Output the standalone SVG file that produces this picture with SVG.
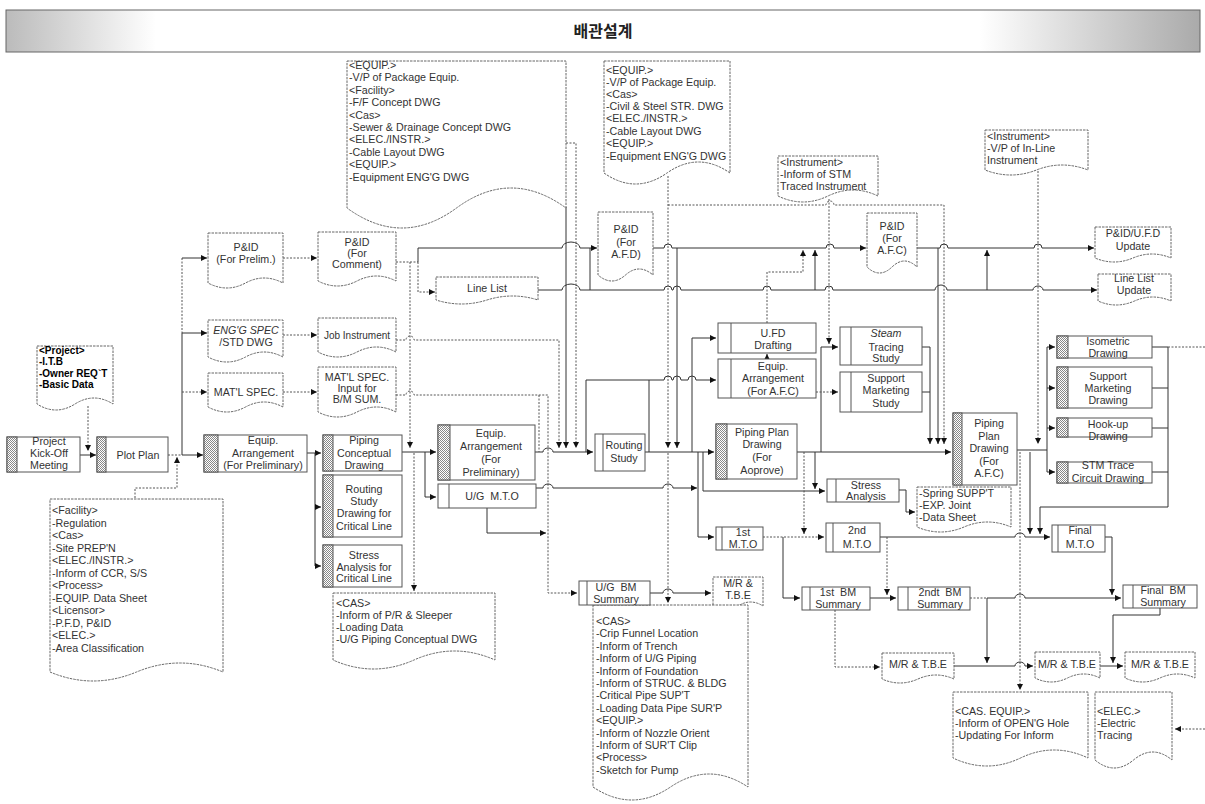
<svg xmlns="http://www.w3.org/2000/svg" width="1205" height="804" viewBox="0 0 1205 804">
<style>
.box{fill:#fff;stroke:#555;stroke-width:1}
.doc{fill:#fff;stroke:#666;stroke-width:1;stroke-dasharray:2.5,1}
.ht{fill:url(#ht);stroke:#555;stroke-width:1}
.il{stroke:#555;stroke-width:1}
.s{fill:none;stroke:#333;stroke-width:1}
.d{fill:none;stroke:#555;stroke-width:1;stroke-dasharray:2,1.5}
.a{marker-end:url(#ar)}
text{font-family:"Liberation Sans",Arial,sans-serif;font-size:10.7px;fill:#333}
.c{text-anchor:middle}
.k{fill:#000;font-weight:bold;font-size:10px}
.i{font-style:italic}
.w{word-spacing:3px}
.t{font-family:"Noto Sans CJK KR","Noto Sans",sans-serif;font-size:16px;font-weight:bold;fill:#222}
</style>
<defs>
<pattern id="ht" width="2" height="2" patternUnits="userSpaceOnUse"><rect width="2" height="2" fill="#fff"/><rect width="1" height="1" fill="#888"/><rect x="1" y="1" width="1" height="1" fill="#888"/></pattern>
<linearGradient id="gl" x1="0" y1="0" x2="1" y2="0"><stop offset="0" stop-color="#bbb"/><stop offset="1" stop-color="#fff"/></linearGradient>
<linearGradient id="gr" x1="0" y1="0" x2="1" y2="0"><stop offset="0" stop-color="#fff"/><stop offset="1" stop-color="#aaa"/></linearGradient>
<marker id="ar" viewBox="0 0 8 8" refX="8" refY="4" markerWidth="6" markerHeight="6" markerUnits="userSpaceOnUse" orient="auto"><path d="M0,0 L8,4 L0,8 z" fill="#111"/></marker>
</defs>
<rect width="1205" height="804" fill="#fff"/>
<g id="title"><rect x="6" y="10" width="1194" height="42" fill="#fff"/><rect x="6" y="10" width="150" height="42" fill="url(#gl)"/><rect x="980" y="10" width="220" height="42" fill="url(#gr)"/><rect x="6" y="10" width="1194" height="42" fill="none" stroke="#666"/><text class="t c" x="603" y="37">배관설계</text></g>

<g id="connectors">
<path class="d a" d="M88,406 V451"/>
<path class="s a" d="M80,455 H96"/>
<path class="d" d="M168,455 H182"/>
<path class="s a" d="M182,455 H203"/>
<path class="d" d="M182,258 V333"/>
<path class="s" d="M182,333 V455"/>
<path class="s a" d="M182,258 H207"/>
<path class="s a" d="M182,333 H207"/>
<path class="d a" d="M182,392 H207"/>
<path class="d a" d="M135,498 V488 H177 V457"/>
<path class="d a" d="M283,258 H317"/>
<path class="d a" d="M283,335 H317"/>
<path class="d a" d="M283,392 H317"/>
<path class="d" d="M396,262 H418"/>
<path class="s a" d="M418,262 V248 H562 a9,6 0 0 1 18,0 H597"/>
<path class="d a" d="M418,262 V292 H435"/>
<path class="s a" d="M538,290 H562 a9,6 0 0 1 18,0 H664 a4,4 0 0 1 8,0 H673 a4,4 0 0 1 8,0 H763 a4,4 0 0 1 8,0 H825 a4,4 0 0 1 8,0 H935 a6,5 0 0 1 12,0 H1033 a5,4 0 0 1 10,0 H1097"/>
<path class="s" d="M590,290 V248"/>
<path class="s a" d="M653,248 H664 a4,4 0 0 1 8,0 H826 a4,4 0 0 1 8,0 H866"/>
<path class="s a" d="M677,248 V448"/>
<path class="d a" d="M668,176 V448"/>
<path class="d a" d="M668,453 V603"/>
<path class="d a" d="M668,205 H826 a4,4 0 0 1 8,0 H944 V444"/>
<path class="d a" d="M829,199 V344"/>
<path class="s a" d="M821,452 V347 H838"/>
<path class="d a" d="M1038,171 V444"/>
<path class="s a" d="M917,248 H940 a4,4 0 0 1 8,0 H1034 a4,4 0 0 1 8,0 H1094"/>
<path class="s a" d="M938,248 V444"/>
<path class="s a" d="M987,290 V250"/>
<path class="s a" d="M922,347 H930 V444"/>
<path class="s" d="M922,392 H930"/>
<path class="s a" d="M797,452 H951"/>
<path class="s a" d="M645,452 H714"/>
<path class="s a" d="M535,452 H543 a5,4 0 0 1 10,0 H593"/>
<path class="d a" d="M396,340 H406 a4,4 0 0 1 8,0 H559 V448"/>
<path class="d a" d="M396,395 H406 a4,4 0 0 1 8,0 H548 V593 H577"/>
<path class="d" d="M539,395 V452"/>
<path class="d a" d="M566,143 H576 V448"/>
<path class="s a" d="M566,207 V448"/>
<path class="s a" d="M402,452 H436"/>
<path class="d a" d="M410,262 V448"/>
<path class="d a" d="M414,453 V591"/>
<path class="s a" d="M425,452 V497 H436"/>
<path class="s a" d="M536,488 H543 a5,4 0 0 1 10,0 H663 a5,4 0 0 1 10,0 H697"/>
<path class="s a" d="M487,508 V533 H546"/>
<path class="s a" d="M650,593 H663 a5,4 0 0 1 10,0 H711"/>
<path class="s a" d="M586,452 V380 H664 a4,4 0 0 1 8,0 H673 a4,4 0 0 1 8,0 H688 a4,4 0 0 1 8,0 H716"/>
<path class="s" d="M649,452 V380"/>
<path class="s a" d="M692,452 V338 H716"/>
<path class="s a" d="M767,359 V354"/>
<path class="d a" d="M767,323 V272 H803 V250"/>
<path class="s a" d="M815,290 V250"/>
<path class="d a" d="M816,392 H838"/>
<path class="s" d="M703,452 V491 H804"/>
<path class="d a" d="M804,452 V534"/>
<path class="s a" d="M815,452 V489"/>
<path class="s a" d="M804,491 H825"/>
<path class="s a" d="M698,452 V537 H714"/>
<path class="d a" d="M763,537 H824"/>
<path class="s a" d="M783,537 V598 H800"/>
<path class="s a" d="M880,537 H1015 a5,4 0 0 1 10,0 H1050"/>
<path class="d a" d="M887,537 V595"/>
<path class="s a" d="M870,598 H896"/>
<path class="s" d="M1017,450 H1047 M1047,347 V472"/>
<path class="s a" d="M1047,347 H1055"/>
<path class="s a" d="M1047,388 H1055"/>
<path class="s a" d="M1047,428 H1055"/>
<path class="s a" d="M1047,472 H1055"/>
<path class="d a" d="M1020,452 V690"/>
<path class="s a" d="M1030,452 V534"/>
<path class="s a" d="M1152,347 H1168 V507 H1040 V534"/>
<path class="s" d="M1152,388 H1168 M1152,428 H1168 M1152,472 H1168"/>
<path class="d" d="M1168,347 H1205"/>
<path class="s a" d="M1105,537 H1112 V595"/>
<path class="d" d="M970,598 H987"/>
<path class="s a" d="M987,598 H1015 a5,4 0 0 1 10,0 H1121"/>
<path class="s a" d="M987,598 V663"/>
<path class="s a" d="M1160,608 V615 H1113 V663"/>
<path class="d a" d="M835,610 V667 H880"/>
<path class="s a" d="M954,666 H1015 a5,4 0 0 1 10,0 H1033"/>
<path class="s a" d="M1100,666 H1123"/>
<path class="d a" d="M1205,729 H1175"/>
<path class="s a" d="M307,453 H321"/>
<path class="s" d="M315,453 V566"/>
<path class="s a" d="M315,507 H321"/>
<path class="s a" d="M315,566 H321"/>
<path class="s a" d="M899,490 H906 V512 H915"/>
</g>

<g id="d-project"><path class="doc" d="M37,346 H113 V404 Q94,392 75,404 T37,404 Z"/><text class="k" x="39" y="354">&lt;Project&gt;</text><text class="k" x="39" y="365">-I.T.B</text><text class="k" x="39" y="377">-Owner REQ`T</text><text class="k" x="39" y="388">-Basic Data</text></g>
<g id="d-facility"><path class="doc" d="M50,499 H223 V672 Q180,654 136.5,672 T50,672 Z"/>
<text x="52" y="514">&lt;Facility&gt;</text><text x="52" y="526.5">-Regulation</text><text x="52" y="539">&lt;Cas&gt;</text><text x="52" y="551.5">-Site PREP'N</text><text x="52" y="564">&lt;ELEC./INSTR.&gt;</text><text x="52" y="576.5">-Inform of CCR, S/S</text><text x="52" y="589">&lt;Process&gt;</text><text x="52" y="601.5">-EQUIP. Data Sheet</text><text x="52" y="614">&lt;Licensor&gt;</text><text x="52" y="626.5">-P.F.D, P&amp;ID</text><text x="52" y="639">&lt;ELEC.&gt;</text><text x="52" y="651.5">-Area Classification</text></g>
<g id="d-equip1"><path class="doc" d="M347,61 H566 V208 Q511,168 456.5,208 T347,208 Z"/>
<text x="349" y="69">&lt;EQUIP.&gt;</text><text x="349" y="81.4">-V/P of Package Equip.</text><text x="349" y="93.8">&lt;Facility&gt;</text><text x="349" y="106.2">-F/F Concept DWG</text><text x="349" y="118.6">&lt;Cas&gt;</text><text x="349" y="131">-Sewer &amp; Drainage Concept DWG</text><text x="349" y="143.4">&lt;ELEC./INSTR.&gt;</text><text x="349" y="155.8">-Cable Layout DWG</text><text x="349" y="168.2">&lt;EQUIP.&gt;</text><text x="349" y="180.6">-Equipment ENG'G DWG</text></g>
<g id="d-equip2"><path class="doc" d="M604,61 H730 V173 Q698.5,151 667,173 T604,173 Z"/>
<text x="606" y="74">&lt;EQUIP.&gt;</text><text x="606" y="86">-V/P of Package Equip.</text><text x="606" y="98">&lt;Cas&gt;</text><text x="606" y="110">-Civil &amp; Steel STR. DWG</text><text x="606" y="122">&lt;ELEC./INSTR.&gt;</text><text x="606" y="135">-Cable Layout DWG</text><text x="606" y="147">&lt;EQUIP.&gt;</text><text x="606" y="160">-Equipment ENG'G DWG</text></g>
<g id="d-inst1"><path class="doc" d="M778,156 H878 V196 Q853,184 828,196 T778,196 Z"/><text x="780" y="166">&lt;Instrument&gt;</text><text x="780" y="178">-Inform of STM</text><text x="780" y="190">Traced Instrument</text></g>
<g id="d-inst2"><path class="doc" d="M985,130 H1088 V170 Q1062,160 1036.5,170 T985,170 Z"/><text x="987" y="140">&lt;Instrument&gt;</text><text x="987" y="152">-V/P of In-Line</text><text x="987" y="164">Instrument</text></g>
<g id="d-pidprelim"><path class="doc" d="M208,233 H283 V283 Q264,273 245.5,283 T208,283 Z"/><text class="c" x="246" y="251">P&amp;ID</text><text class="c" x="246" y="263">(For Prelim.)</text></g>
<g id="d-pidcomment"><path class="doc" d="M318,232 H396 V281 Q376.5,271 357,281 T318,281 Z"/><text class="c" x="357" y="246">P&amp;ID</text><text class="c" x="357" y="257">(For</text><text class="c" x="357" y="268">Comment)</text></g>
<g id="d-engg"><path class="doc" d="M208,320 H283 V357 Q264,347 245.5,357 T208,357 Z"/><text class="c i" x="246" y="334">ENG'G SPEC</text><text class="c" x="246" y="346">/STD DWG</text></g>
<g id="d-jobinst"><path class="doc" d="M318,318 H396 V352 Q376.5,342 357,352 T318,352 Z"/><text class="c" x="357" y="339" style="font-size:10px">Job Instrument</text></g>
<g id="d-matl"><path class="doc" d="M208,373 H283 V407 Q264,397 245.5,407 T208,407 Z"/><text class="c" x="246" y="396">MAT'L SPEC.</text></g>
<g id="d-matlinput"><path class="doc" d="M318,367 H396 V412 Q376.5,402 357,412 T318,412 Z"/><text class="c" x="357" y="381">MAT'L SPEC.</text><text class="c" x="357" y="392">Input for</text><text class="c" x="357" y="403">B/M SUM.</text></g>
<g id="d-linelist"><path class="doc" d="M436,277 H538 V300 Q512.5,292 487,300 T436,300 Z"/><text class="c" x="487" y="292">Line List</text></g>
<g id="d-pidafd"><path class="doc" d="M598,212 H653 V275 Q639,263 625.5,275 T598,275 Z"/><text class="c" x="626" y="233">P&amp;ID</text><text class="c" x="626" y="246">(For</text><text class="c" x="626" y="258">A.F.D)</text></g>
<g id="d-pidafc"><path class="doc" d="M867,213 H917 V267 Q904.5,255 892,267 T867,267 Z"/><text class="c" x="892" y="230">P&amp;ID</text><text class="c" x="892" y="242">(For</text><text class="c" x="892" y="254">A.F.C)</text></g>
<g id="d-pidupdate"><path class="doc" d="M1095,227 H1171 V258 Q1152,250 1133,258 T1095,258 Z"/><text class="c" x="1133" y="237">P&amp;ID/U.F.D</text><text class="c" x="1133" y="250">Update</text></g>
<g id="d-llupdate"><path class="doc" d="M1098,274 H1171 V301 Q1152.75,293 1134.5,301 T1098,301 Z"/><text class="c" x="1134" y="282">Line List</text><text class="c" x="1134" y="294">Update</text></g>
<g id="d-spring"><path class="doc" d="M917,487 H1011 V527 Q987.5,517 964,527 T917,527 Z"/><text x="919" y="497">-Spring SUPP'T</text><text x="919" y="509">-EXP. Joint</text><text x="919" y="521">-Data Sheet</text></g>
<g id="d-mr1"><path class="doc" d="M713,577 H763 V606 Q750.5,598 738,606 T713,606 Z"/><text class="c" x="738" y="587">M/R &amp;</text><text class="c" x="738" y="599">T.B.E</text></g>
<g id="d-cas1"><path class="doc" d="M333,593 H495 V660 Q454.5,642 414,660 T333,660 Z"/><text x="336" y="607">&lt;CAS&gt;</text><text x="336" y="619">-Inform of P/R &amp; Sleeper</text><text x="336" y="631">-Loading Data</text><text x="336" y="643">-U/G Piping Conceptual DWG</text></g>
<g id="d-cas2"><path class="doc" d="M593,605 H748 V787 Q709,761 670.5,787 T593,787 Z"/>
<text x="596" y="625">&lt;CAS&gt;</text><text x="596" y="637.4">-Crip Funnel Location</text><text x="596" y="649.8">-Inform of Trench</text><text x="596" y="662.2">-Inform of U/G Piping</text><text x="596" y="674.6">-Inform of Foundation</text><text x="596" y="687">-Inform of STRUC. &amp; BLDG</text><text x="596" y="699.4">-Critical Pipe SUP'T</text><text x="596" y="711.8">-Loading Data Pipe SUR'P</text><text x="596" y="724.2">&lt;EQUIP.&gt;</text><text x="596" y="736.6">-Inform of Nozzle Orient</text><text x="596" y="749">-Inform of SUR'T Clip</text><text x="596" y="761.4">&lt;Process&gt;</text><text x="596" y="773.8">-Sketch for Pump</text></g>
<g id="d-mr2"><path class="doc" d="M882,653 H954 V679 Q936,671 918,679 T882,679 Z"/><text class="c" x="918" y="668">M/R &amp; T.B.E</text></g>
<g id="d-mr3"><path class="doc" d="M1035,652 H1100 V678 Q1083.75,670 1067.5,678 T1035,678 Z"/><text class="c" x="1067" y="668">M/R &amp; T.B.E</text></g>
<g id="d-mr4"><path class="doc" d="M1125,652 H1195 V678 Q1177.5,670 1160,678 T1125,678 Z"/><text class="c" x="1160" y="668">M/R &amp; T.B.E</text></g>
<g id="d-caseq"><path class="doc" d="M953,692 H1088 V758 Q1054,742 1020.5,758 T953,758 Z"/><text x="955" y="715">&lt;CAS. EQUIP.&gt;</text><text x="955" y="727">-Inform of OPEN'G Hole</text><text x="955" y="739">-Updating For Inform</text></g>
<g id="d-elec"><path class="doc" d="M1095,692 H1172 V760 Q1152.75,744 1133.5,760 T1095,760 Z"/><text x="1097" y="715">&lt;ELEC.&gt;</text><text x="1097" y="727">-Electric</text><text x="1097" y="739">Tracing</text></g>

<g id="n-kickoff"><rect class="box" x="7" y="437" width="73" height="35"/><rect class="ht" x="7" y="437" width="10" height="35"/><text class="c" x="49" y="445">Project</text><text class="c" x="49" y="457">Kick-Off</text><text class="c" x="49" y="469">Meeting</text></g>
<g id="n-plotplan"><rect class="box" x="97" y="437" width="71" height="35"/><rect class="ht" x="97" y="437" width="9" height="35"/><text class="c" x="138" y="459">Plot Plan</text></g>
<g id="n-equiparr1"><rect class="box" x="204" y="435" width="103" height="37"/><rect class="ht" x="204" y="435" width="14" height="37"/><text class="c" x="263" y="444">Equip.</text><text class="c" x="263" y="457">Arrangement</text><text class="c" x="263" y="469">(For Preliminary)</text></g>
<g id="n-pipingconc"><rect class="box" x="323" y="435" width="79" height="36"/><rect class="ht" x="323" y="435" width="10" height="36"/><text class="c" x="364" y="444">Piping</text><text class="c" x="364" y="457">Conceptual</text><text class="c" x="364" y="469">Drawing</text></g>
<g id="n-routingcrit"><rect class="box" x="323" y="475" width="79" height="62"/><rect class="ht" x="323" y="475" width="10" height="62"/><text class="c" x="364" y="493">Routing</text><text class="c" x="364" y="505">Study</text><text class="c" x="364" y="517">Drawing for</text><text class="c" x="364" y="530">Critical Line</text></g>
<g id="n-stresscrit"><rect class="box" x="323" y="545" width="79" height="42"/><rect class="ht" x="323" y="545" width="10" height="42"/><text class="c" x="364" y="559">Stress</text><text class="c" x="364" y="571">Analysis for</text><text class="c" x="364" y="582">Critical Line</text></g>
<g id="n-equiparr2"><rect class="box" x="438" y="425" width="97" height="55"/><rect class="ht" x="438" y="425" width="12" height="55"/><text class="c" x="491" y="437">Equip.</text><text class="c" x="491" y="450">Arrangement</text><text class="c" x="491" y="463">(For</text><text class="c" x="491" y="476">Preliminary)</text></g>
<g id="n-ugmto"><rect class="box" x="438" y="484" width="98" height="24"/><line class="il" x1="449" y1="484" x2="449" y2="508"/><text class="c w" x="492" y="500">U/G M.T.O</text></g>
<g id="n-routing"><rect class="box" x="595" y="434" width="50" height="37"/><line class="il" x1="603" y1="434" x2="603" y2="471"/><text class="c" x="624" y="449">Routing</text><text class="c" x="624" y="462">Study</text></g>
<g id="n-ufd"><rect class="box" x="718" y="323" width="98" height="30"/><line class="il" x1="731" y1="323" x2="731" y2="353"/><text class="c" x="773" y="337">U.FD</text><text class="c" x="773" y="349">Drafting</text></g>
<g id="n-equipafc"><rect class="box" x="718" y="359" width="98" height="39"/><line class="il" x1="731" y1="359" x2="731" y2="398"/><text class="c" x="773" y="370">Equip.</text><text class="c" x="773" y="382">Arrangement</text><text class="c" x="773" y="395">(For A.F.C)</text></g>
<g id="n-ppapprove"><rect class="box" x="716" y="424" width="81" height="55"/><rect class="ht" x="716" y="424" width="11" height="55"/><text class="c" x="762" y="436">Piping Plan</text><text class="c" x="762" y="448">Drawing</text><text class="c" x="762" y="461">(For</text><text class="c" x="762" y="474">Aoprove)</text></g>
<g id="n-steam"><rect class="box" x="840" y="327" width="82" height="38"/><line class="il" x1="851" y1="327" x2="851" y2="365"/><text class="c i" x="886" y="337">Steam</text><text class="c" x="886" y="351">Tracing</text><text class="c" x="886" y="362">Study</text></g>
<g id="n-supportstudy"><rect class="box" x="840" y="372" width="82" height="40"/><line class="il" x1="851" y1="372" x2="851" y2="412"/><text class="c" x="886" y="382">Support</text><text class="c" x="886" y="394">Marketing</text><text class="c" x="886" y="407">Study</text></g>
<g id="n-ppafc"><rect class="box" x="953" y="413" width="64" height="72"/><rect class="ht" x="953" y="413" width="9" height="72"/><text class="c" x="989" y="427">Piping</text><text class="c" x="989" y="440">Plan</text><text class="c" x="989" y="452">Drawing</text><text class="c" x="989" y="465">(For</text><text class="c" x="989" y="477">A.F.C)</text></g>
<g id="n-iso"><rect class="box" x="1057" y="336" width="95" height="22"/><rect class="ht" x="1057" y="336" width="11" height="22"/><text class="c" x="1108" y="345">Isometric</text><text class="c" x="1108" y="357">Drawing</text></g>
<g id="n-supportdrw"><rect class="box" x="1057" y="367" width="95" height="41"/><rect class="ht" x="1057" y="367" width="11" height="41"/><text class="c" x="1108" y="380">Support</text><text class="c" x="1108" y="392">Marketing</text><text class="c" x="1108" y="404">Drawing</text></g>
<g id="n-hookup"><rect class="box" x="1057" y="418" width="95" height="19"/><rect class="ht" x="1057" y="418" width="11" height="19"/><text class="c" x="1108" y="428">Hook-up</text><text class="c" x="1108" y="440">Drawing</text></g>
<g id="n-stm"><rect class="box" x="1057" y="462" width="95" height="21"/><rect class="ht" x="1057" y="462" width="11" height="21"/><text class="c" x="1108" y="469">STM Trace</text><text class="c" x="1108" y="482">Circuit Drawing</text></g>
<g id="n-stress"><rect class="box" x="827" y="479" width="72" height="23"/><line class="il" x1="836" y1="479" x2="836" y2="502"/><text class="c" x="866" y="489">Stress</text><text class="c" x="866" y="500">Analysis</text></g>
<g id="n-mto1"><rect class="box" x="716" y="527" width="47" height="23"/><line class="il" x1="722" y1="527" x2="722" y2="550"/><text class="c" x="743" y="536">1st</text><text class="c" x="743" y="548">M.T.O</text></g>
<g id="n-mto2"><rect class="box" x="826" y="523" width="54" height="29"/><line class="il" x1="833" y1="523" x2="833" y2="552"/><text class="c" x="857" y="534">2nd</text><text class="c" x="857" y="548">M.T.O</text></g>
<g id="n-mtofinal"><rect class="box" x="1052" y="525" width="53" height="27"/><line class="il" x1="1058" y1="525" x2="1058" y2="552"/><text class="c" x="1080" y="534">Final</text><text class="c" x="1080" y="548">M.T.O</text></g>
<g id="n-ugbm"><rect class="box" x="579" y="581" width="71" height="24"/><line class="il" x1="587" y1="581" x2="587" y2="605"/><text class="c w" x="616" y="591">U/G BM</text><text class="c" x="616" y="603">Summary</text></g>
<g id="n-bm1"><rect class="box" x="802" y="587" width="68" height="23"/><line class="il" x1="810" y1="587" x2="810" y2="610"/><text class="c w" x="838" y="596">1st BM</text><text class="c" x="838" y="608">Summary</text></g>
<g id="n-bm2"><rect class="box" x="898" y="587" width="72" height="23"/><line class="il" x1="908" y1="587" x2="908" y2="610"/><text class="c w" x="940" y="596">2ndt BM</text><text class="c" x="940" y="608">Summary</text></g>
<g id="n-bmfinal"><rect class="box" x="1123" y="585" width="74" height="23"/><line class="il" x1="1133" y1="585" x2="1133" y2="608"/><text class="c w" x="1163" y="594">Final BM</text><text class="c" x="1163" y="606">Summary</text></g>
</svg>
